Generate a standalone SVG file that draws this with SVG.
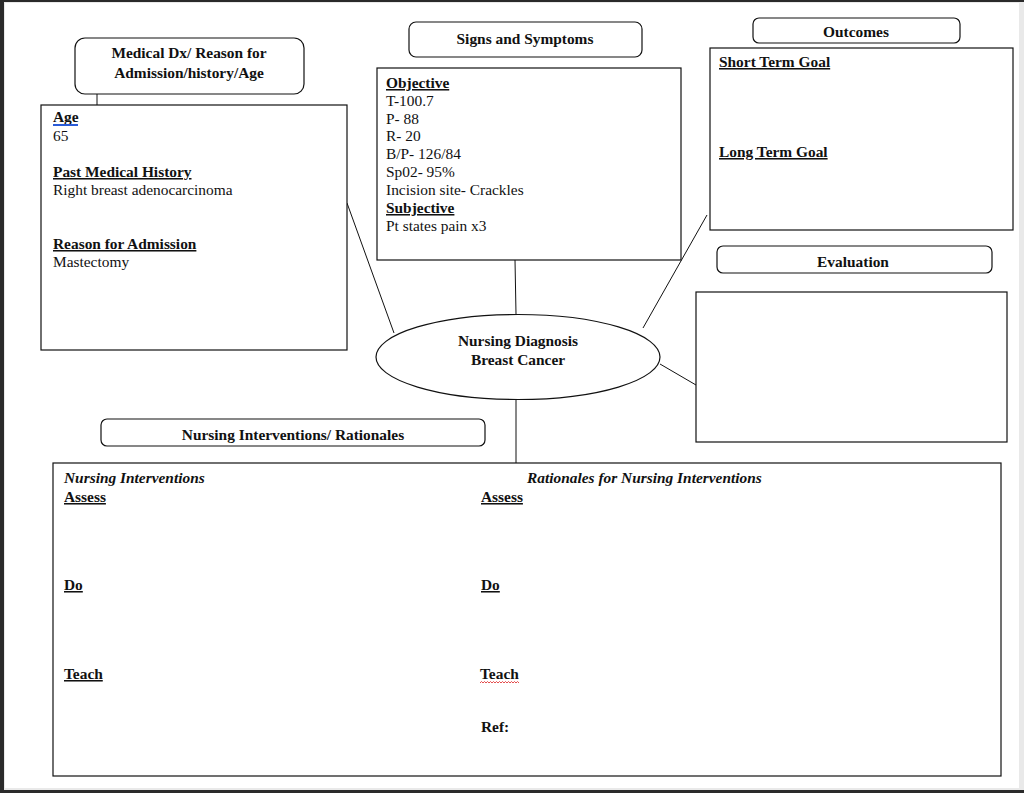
<svg xmlns="http://www.w3.org/2000/svg" width="1024" height="793" viewBox="0 0 1024 793">
<style>
text{font-family:"Liberation Serif","Times New Roman",serif;font-size:15.4px;fill:#111}
.b{font-weight:bold}
.h{font-weight:bold;font-size:15.4px;text-anchor:middle}
.u{font-weight:bold;text-decoration:underline}
.i{font-weight:bold;font-style:italic}
.box{fill:#fff;stroke:#111;stroke-width:1.2}
.con line{stroke:#111;stroke-width:1}
</style>
<rect x="0" y="0" width="1024" height="793" fill="#2a2a2a"/>
<rect x="4" y="2" width="1020" height="788" fill="#e9e9e9"/>
<rect x="5" y="3" width="1014" height="785" fill="#fff"/>
<g class="con">
<line x1="97" y1="94" x2="97" y2="115"/>
<line x1="347" y1="203" x2="394" y2="333"/>
<line x1="515" y1="260" x2="516" y2="314"/>
<line x1="707" y1="215" x2="643" y2="328"/>
<line x1="660" y1="364" x2="696" y2="385"/>
<line x1="516" y1="399" x2="516" y2="463"/>
</g>
<g id="medical-dx">
<rect class="box" x="75" y="38" width="229" height="56" rx="10"/>
<text class="h" x="189" y="58">Medical Dx/ Reason for</text>
<text class="h" x="189" y="78">Admission/history/Age</text>
</g>
<g id="history-box">
<rect class="box" x="41" y="105" width="306" height="245"/>
<text class="b" x="53" y="122">Age</text>
<line x1="53" y1="125" x2="78" y2="125" stroke="#2a5bd7" stroke-width="2"/>
<text x="53" y="141">65</text>
<text class="u" x="53" y="177">Past Medical History</text>
<text x="53" y="195">Right breast adenocarcinoma</text>
<text class="u" x="53" y="249">Reason for Admission</text>
<text x="53" y="267">Mastectomy</text>
</g>
<g id="signs-symptoms">
<rect class="box" x="409" y="22" width="233" height="35" rx="7"/>
<text class="h" x="525" y="44">Signs and Symptoms</text>
</g>
<g id="objective-box">
<rect class="box" x="377" y="68" width="304" height="192"/>
<text class="u" x="386" y="88">Objective</text>
<text x="386" y="106">T-100.7</text>
<text x="386" y="124">P- 88</text>
<text x="386" y="141">R- 20</text>
<text x="386" y="159">B/P- 126/84</text>
<text x="386" y="177">Sp02- 95%</text>
<text x="386" y="195">Incision site- Crackles</text>
<text class="u" x="386" y="213">Subjective</text>
<text x="386" y="231">Pt states pain x3</text>
</g>
<g id="outcomes">
<rect class="box" x="753" y="18" width="207" height="25" rx="6"/>
<text class="h" x="856" y="37">Outcomes</text>
</g>
<g id="outcomes-box">
<rect class="box" x="710" y="48" width="303" height="182"/>
<text class="u" x="719" y="67">Short Term Goal</text>
<text class="u" x="719" y="157">Long Term Goal</text>
</g>
<g id="evaluation">
<rect class="box" x="717" y="246" width="275" height="27" rx="6"/>
<text class="h" x="853" y="267">Evaluation</text>
</g>
<g id="evaluation-box">
<rect class="box" x="696" y="292" width="311" height="150"/>
</g>
<g id="nursing-diagnosis">
<ellipse class="box" cx="518" cy="357" rx="142" ry="42.5"/>
<text class="h" x="518" y="346">Nursing Diagnosis</text>
<text class="h" x="518" y="365">Breast Cancer</text>
</g>
<g id="interventions-title">
<rect class="box" x="101" y="419" width="384" height="27" rx="6"/>
<text class="h" x="293" y="440">Nursing Interventions/ Rationales</text>
</g>
<g id="interventions-box">
<rect class="box" x="53" y="463" width="948" height="313"/>
<text class="i" x="64" y="483">Nursing Interventions</text>
<text class="u" x="64" y="502">Assess </text>
<text class="u" x="64" y="590">Do </text>
<text class="u" x="64" y="679">Teach</text>
<text class="i" x="527" y="483">Rationales for Nursing Interventions</text>
<text class="u" x="481" y="502">Assess</text>
<text class="u" x="481" y="590">Do</text>
<text class="b" x="480" y="679">Teach</text>
<path d="M480 683 l1.5 -1.5 l1.5 1.5 l1.5 -1.5 l1.5 1.5 l1.5 -1.5 l1.5 1.5 l1.5 -1.5 l1.5 1.5 l1.5 -1.5 l1.5 1.5 l1.5 -1.5 l1.5 1.5 l1.5 -1.5 l1.5 1.5 l1.5 -1.5 l1.5 1.5 l1.5 -1.5 l1.5 1.5 l1.5 -1.5 l1.5 1.5 l1.5 -1.5 l1.5 1.5 l1.5 -1.5 l1.5 1.5 l1.5 -1.5 l1.5 1.5" fill="none" stroke="#d22" stroke-width="0.8"/>
<text class="b" x="481" y="732">Ref:</text>
</g>
</svg>
